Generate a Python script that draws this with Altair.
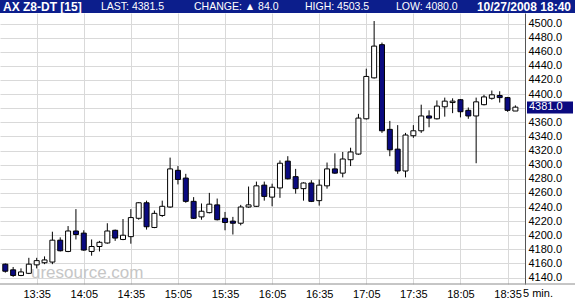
import altair as alt
import pandas as pd

# ---------------- data ----------------
times = ["13:15", "13:20", "13:25", "13:30", "13:35", "13:40", "13:45", "13:50", "13:55", "14:00",
         "14:05", "14:10", "14:15", "14:20", "14:25", "14:30", "14:35", "14:40", "14:45", "14:50",
         "14:55", "15:00", "15:05", "15:10", "15:15", "15:20", "15:25", "15:30", "15:35", "15:40",
         "15:45", "15:50", "15:55", "16:00", "16:05", "16:10", "16:15", "16:20", "16:25", "16:30",
         "16:35", "16:40", "16:45", "16:50", "16:55", "17:00", "17:05", "17:10", "17:15", "17:20",
         "17:25", "17:30", "17:35", "17:40", "17:45", "17:50", "17:55", "18:00", "18:05", "18:10",
         "18:15", "18:20", "18:25", "18:30", "18:35", "18:40"]
opens = [4159, 4151, 4143, 4146, 4158, 4161, 4162, 4193, 4177, 4206,
         4203, 4177, 4184, 4189, 4207, 4194, 4198, 4224, 4246, 4211,
         4228, 4240, 4292, 4281, 4248, 4226, 4232, 4243, 4224, 4220,
         4217, 4240, 4241, 4271, 4254, 4267, 4305, 4283, 4266, 4274,
         4249, 4270, 4294, 4288, 4307, 4315, 4365, 4423, 4470, 4350,
         4322, 4291, 4341, 4348, 4369, 4365, 4382, 4388, 4392, 4377,
         4369, 4385, 4394, 4398, 4395, 4376]
highs = [4160, 4155, 4153, 4168, 4168, 4170, 4205, 4197, 4213, 4237,
         4207, 4194, 4192, 4217, 4208, 4223, 4237, 4247, 4249, 4235,
         4249, 4310, 4298, 4287, 4254, 4245, 4260, 4252, 4233, 4226,
         4243, 4269, 4276, 4276, 4273, 4306, 4312, 4294, 4275, 4278,
         4279, 4303, 4316, 4318, 4324, 4372, 4436, 4503.5, 4473, 4362,
         4356, 4345, 4356, 4385, 4377, 4391, 4395, 4394, 4393, 4381,
         4395, 4399, 4405, 4404, 4396, 4384]
lows = [4147, 4141, 4142, 4145, 4153, 4159, 4159, 4177, 4176, 4194,
        4178, 4171, 4177, 4188, 4192, 4193, 4188, 4222, 4208, 4210,
        4226, 4239, 4272, 4246, 4223, 4222, 4231, 4221, 4207, 4201,
        4214, 4239, 4240, 4249, 4241, 4253, 4279, 4259, 4249, 4247,
        4242, 4266, 4287, 4282, 4298, 4314, 4364, 4422, 4345, 4312,
        4287, 4282, 4338, 4345, 4353, 4364, 4368, 4373, 4367, 4365,
        4302, 4384, 4392, 4388, 4375, 4376]
closes = [4149, 4143, 4148, 4159, 4164, 4165, 4193, 4178, 4206, 4201,
          4179, 4184, 4190, 4206, 4196, 4200, 4225, 4246, 4212, 4231,
          4241, 4294, 4279, 4248, 4224, 4234, 4244, 4222, 4218, 4217,
          4240, 4243, 4270, 4255, 4268, 4302, 4280, 4266, 4274, 4248,
          4271, 4294, 4288, 4308, 4318, 4366, 4425, 4468, 4348, 4321,
          4291, 4342, 4348, 4369, 4366, 4383, 4390, 4390, 4375, 4369,
          4389, 4396, 4399, 4395, 4377, 4381.5]

y_tick_values = [4140, 4160, 4180, 4200, 4220, 4240, 4260, 4280, 4300, 4320,
                 4340, 4360, 4380, 4400, 4420, 4440, 4460, 4480, 4500]
x_tick_labels = ["13:35", "14:05", "14:35", "15:05", "15:35", "16:05",
                 "16:35", "17:05", "17:35", "18:05", "18:35"]

symbol = "AX Z8-DT [15]"
last_price = 4381.5
change = 84.0
high_price = 4503.5
low_price = 4080.0
stamp = "10/27/2008 18:40"
last_label = 4381.0
interval_label = "5 min."
watermark = "uresource.com"

# ---------------- build ----------------
def to_min(s):
    h, m = s.split(":")
    return int(h) * 60 + int(m)

df = pd.DataFrame({
    "t": [to_min(s) for s in times],
    "open": opens, "high": highs, "low": lows, "close": closes,
})
df["dir"] = ["down" if c < o else "up" for o, c in zip(opens, closes)]

FONT = "Liberation Sans"
NAVY = "#0a0a80"
HEADER = "#0c1e8c"
GRID = "#d9d9d9"

xscale = alt.Scale(domain=[794.81, 1122.94], nice=False, zero=False)
yscale = alt.Scale(domain=[4130.9, 4514.9], nice=False, zero=False)

X_AXIS = alt.Axis(
    title="", values=[to_min(s) for s in x_tick_labels],
    labelExpr="floor(datum.value / 60) + ':' + (datum.value % 60 < 10 ? '0' : '') + (datum.value % 60)",
    grid=True, gridColor=GRID, gridWidth=1, domain=False, ticks=False,
    labelPadding=4, labelFontSize=11, labelColor="black", labelFont=FONT,
    labelFlush=False, labelOverlap=False,
)
Y_AXIS = alt.Axis(
    title="", orient="right", values=y_tick_values, format=".1f",
    grid=True, gridColor=GRID, gridWidth=1, domain=True, domainColor="#555555",
    ticks=False, labelPadding=3, labelFontSize=11, labelColor="black", labelFont=FONT,
    labelFlush=False, labelOverlap=False,
)

base = alt.Chart(df)

wicks = base.mark_rule(color="black", strokeWidth=1).encode(
    x=alt.X("t:Q", scale=xscale, axis=X_AXIS),
    y=alt.Y("low:Q", scale=yscale, axis=Y_AXIS),
    y2="high:Q",
)

bodies = base.mark_bar(size=5, stroke="black", strokeWidth=1).encode(
    x=alt.X("t:Q", scale=xscale, axis=X_AXIS),
    y=alt.Y("open:Q", scale=yscale, axis=Y_AXIS),
    y2="close:Q",
    color=alt.Color("dir:N", scale=alt.Scale(domain=["up", "down"], range=["white", NAVY]), legend=None),
)

one = pd.DataFrame({"a": [0]})

wm = alt.Chart(one).mark_text(
    text=watermark, font=FONT, fontSize=17, color="#c6c6c6", align="left", baseline="alphabetic"
).encode(x=alt.value(31), y=alt.value(265))

header_bar = alt.Chart(one).mark_rect(color=HEADER).encode(
    x=alt.value(0), x2=alt.value(575), y=alt.value(-13), y2=alt.value(0)
)

def htext(txt, x, bold=False, size=10.5, align="left"):
    return alt.Chart(one).mark_text(
        text=txt, font=FONT, fontSize=size, fontWeight="bold" if bold else "normal",
        color="white", align=align, baseline="middle"
    ).encode(x=alt.value(x), y=alt.value(-6))

h1 = htext(symbol, 3, bold=True, size=12)
h2 = htext(f"LAST: {last_price:.1f}", 101)
h3 = htext(f"CHANGE: \u25b2 {change:.1f}", 194)
h4 = htext(f"HIGH: {high_price:.1f}", 305)
h5 = htext(f"LOW: {low_price:.1f}", 396)
h6 = htext(stamp, 571, bold=True, size=12, align="right")

bottom_line = alt.Chart(one).mark_rule(color="#8c8c8c", strokeWidth=1).encode(
    x=alt.value(0), x2=alt.value(575), y=alt.value(271)
)

interval = alt.Chart(one).mark_text(
    text=interval_label, font=FONT, fontSize=11, color="black", align="left", baseline="top"
).encode(x=alt.value(523), y=alt.value(275))

box_df = pd.DataFrame({"v": [last_label], "lo": [last_label - 8.5], "hi": [last_label + 8.5]})
box = alt.Chart(box_df).mark_rect(color=NAVY).encode(
    x=alt.value(527), x2=alt.value(573),
    y=alt.Y("lo:Q", scale=yscale, axis=Y_AXIS), y2="hi:Q",
)
box_text = alt.Chart(box_df).mark_text(
    font=FONT, fontSize=11, color="white", align="left", baseline="middle"
).encode(
    x=alt.value(529),
    y=alt.Y("v:Q", scale=yscale, axis=Y_AXIS),
    text=alt.Text("v:Q", format=".1f"),
)

chart = alt.layer(
    wm, wicks, bodies, header_bar, h1, h2, h3, h4, h5, h6, bottom_line, interval, box, box_text
).properties(
    width=525, height=271,
    autosize=alt.AutoSizeParams(type="none"),
    padding={"left": 0, "top": 13, "right": 50, "bottom": 16},
    background="white",
).configure_view(strokeWidth=0)

chart.save("out.html", embed_options={"renderer": "svg", "actions": False})
